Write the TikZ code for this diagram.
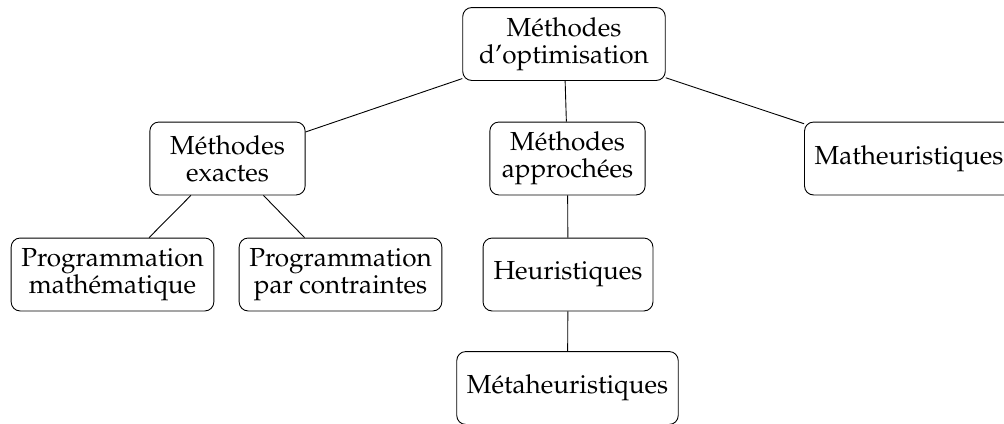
\documentclass[tikz,border=0pt]{standalone}
\usepackage[T1]{fontenc}
\usepackage{mathpazo}
\usepackage{tikz}
\usetikzlibrary{positioning}
\tikzstyle{methode} = [draw=black, rounded corners=4pt, align=center, minimum height=32.4pt, inner xsep=4.5pt, inner ysep=4pt, font=\fontsize{11.6}{12}\selectfont]
\tikzstyle{lien} = [-]

\begin{document}
\begin{tikzpicture}[x=0.4444pt, y=-0.4444pt]

  \useasboundingbox (0,0) rectangle (1004,423);

  % racine
  \node[methode, minimum width=90pt] (optim) at (564,44) {M\'ethodes\\d'optimisation};

  % second niveau
  \node[methode, minimum width=69pt] (exactes) at (227.5,158.5) {M\'ethodes\\exactes};
  \node[methode, minimum width=69pt] (approchees) at (567.5,158.5) {M\'ethodes\\approch\'ees};
  \node[methode, minimum width=92pt] (mathheur) at (909,158.5) {Matheuristiques};

  % troisieme niveau
  \node[methode] (progmath) at (112.5,274.5) {Programmation\\math\'ematique};
  \node[methode] (progcont) at (340.5,274.5) {Programmation\\par contraintes};
  \node[methode, minimum width=75.5pt] (heur) at (568,274.5) {Heuristiques};

  % quatrieme niveau
  \node[methode] (metaheur) at (567.5,388) {M\'etaheuristiques};

  \draw[lien] (optim) -- (exactes);
  \draw[lien] (optim) -- (approchees);
  \draw[lien] (optim) -- (mathheur);
  \draw[lien] (exactes) -- (progmath);
  \draw[lien] (exactes) -- (progcont);
  \draw[lien] (approchees) -- (heur);
  \draw[lien] (heur) -- (metaheur);

\end{tikzpicture}
\end{document}
